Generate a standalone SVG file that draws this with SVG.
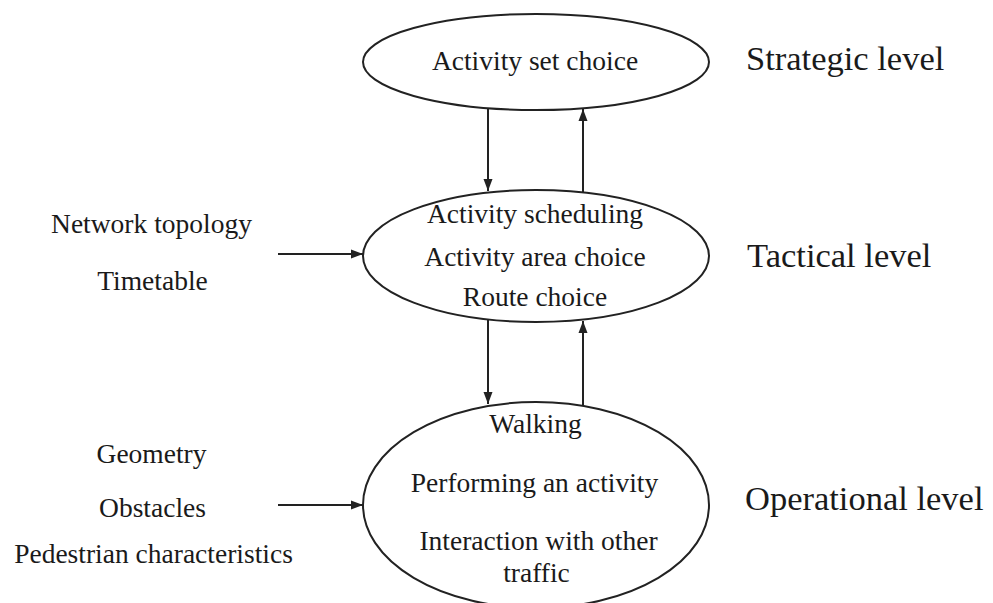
<svg xmlns="http://www.w3.org/2000/svg" width="993" height="603" viewBox="0 0 993 603">
<defs>
<style>
.n{fill:#fff;stroke:#222;stroke-width:2}
.t{font-family:"Liberation Serif","Times New Roman",serif;font-size:27.5px;fill:#1a1a1a;text-anchor:middle}
.l{font-family:"Liberation Serif","Times New Roman",serif;font-size:34.5px;fill:#1a1a1a}
.c{stroke:#222;stroke-width:2;fill:none;marker-end:url(#ah)}
</style>
<marker id="ah" viewBox="0 0 12 10" refX="12" refY="5" markerWidth="12" markerHeight="10" markerUnits="userSpaceOnUse" orient="auto">
<path d="M0,0.5 L12,5 L0,9.5 Z" fill="#222"/>
</marker>
</defs>
<rect width="993" height="603" fill="#fff"/>
<g id="connectors">
<line class="c" x1="488" y1="108" x2="488" y2="191"/>
<line class="c" x1="583" y1="193" x2="583" y2="109"/>
<line class="c" x1="488" y1="320" x2="488" y2="404"/>
<line class="c" x1="583" y1="406" x2="583" y2="321"/>
<line class="c" x1="278" y1="254" x2="363" y2="254"/>
<line class="c" x1="278" y1="505" x2="363" y2="505"/>
</g>
<g id="strategic">
<ellipse class="n" cx="536" cy="62" rx="173" ry="48"/>
<text class="t" x="535" y="70">Activity set choice</text>
</g>
<g id="tactical">
<ellipse class="n" cx="536" cy="256" rx="173" ry="66"/>
<text class="t" x="535" y="223">Activity scheduling</text>
<text class="t" x="535" y="266">Activity area choice</text>
<text class="t" x="535" y="306">Route choice</text>
</g>
<g id="operational">
<ellipse class="n" cx="536" cy="505" rx="173" ry="103"/>
<text class="t" x="535.5" y="433">Walking</text>
<text class="t" x="534.5" y="492">Performing an activity</text>
<text class="t" x="538.5" y="550">Interaction with other</text>
<text class="t" x="536.5" y="582">traffic</text>
</g>
<g id="tactical-inputs">
<text class="t" x="151.5" y="233">Network topology</text>
<text class="t" x="152.5" y="290">Timetable</text>
</g>
<g id="operational-inputs">
<text class="t" x="151.5" y="463">Geometry</text>
<text class="t" x="152.5" y="517">Obstacles</text>
<text class="t" x="153.5" y="563">Pedestrian characteristics</text>
</g>
<g id="levels">
<text class="l" x="746" y="70">Strategic level</text>
<text class="l" x="747" y="267">Tactical level</text>
<text class="l" x="745" y="510">Operational level</text>
</g>
</svg>
